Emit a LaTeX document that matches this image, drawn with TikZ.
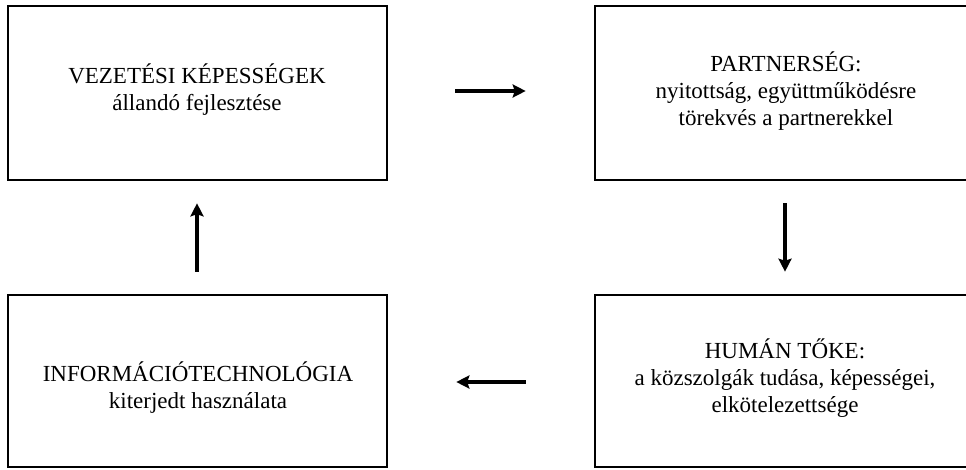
\documentclass[tikz,border=0pt]{standalone}
\usepackage{fontspec}
\setmainfont{Liberation Serif}
\usetikzlibrary{arrows.meta}
\begin{document}
\begin{tikzpicture}[x=1pt,y=-1pt,
  box/.style={draw,line width=2.6pt,rectangle,inner sep=0pt},
  lbl/.style={align=center,anchor=base,inner sep=0pt,font=\fontsize{23}{27}\selectfont},
  arr/.style={line width=4pt,-{Stealth[length=13pt,width=13pt,inset=2pt]}}]
\useasboundingbox (0,0) rectangle (966,469);
\node[box,minimum width=379pt,minimum height=174pt] (tl) at (197.5,93) {};
\node[box,minimum width=380pt,minimum height=174pt] (tr) at (785,93) {};
\node[box,minimum width=379pt,minimum height=172pt] (bl) at (197.5,381) {};
\node[box,minimum width=380pt,minimum height=172pt] (br) at (785,381) {};
\node[lbl] (tltext) at (197,110) {VEZETÉSI KÉPESSÉGEK\\állandó fejlesztése};
\node[lbl] (trtext) at (786,125) {PARTNERSÉG:\\nyitottság, együttműködésre\\törekvés a partnerekkel};
\node[lbl] (bltext) at (198,408) {INFORMÁCIÓTECHNOLÓGIA\\kiterjedt használata};
\node[lbl] (brtext) at (785,412) {HUMÁN TŐKE:\\a közszolgák tudása, képességei,\\elkötelezettsége};
\draw[arr] ([xshift=67pt]tl.east |- 0,91) -- ([xshift=-68pt]tr.west |- 0,91);
\draw[arr] ([yshift=-22pt]tr.south) -- ([yshift=22pt]br.north);
\draw[arr] ([xshift=-68pt]br.west |- 0,382) -- ([xshift=68pt]bl.east |- 0,382);
\draw[arr] ([yshift=22pt]bl.north -| 197,0) -- ([yshift=-22pt]tl.south -| 197,0);
\end{tikzpicture}
\end{document}
